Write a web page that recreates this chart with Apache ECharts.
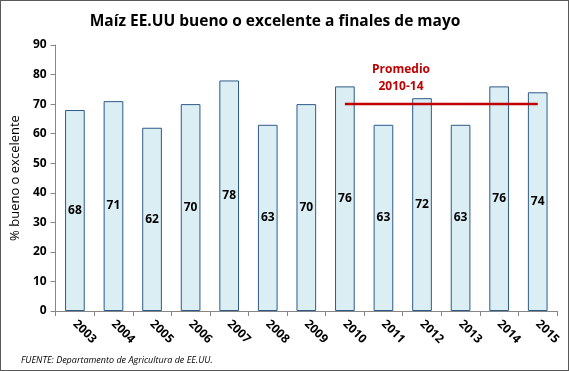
<!DOCTYPE html>
<html><head><meta charset="utf-8">
<script src="https://cdn.jsdelivr.net/npm/echarts@6/dist/echarts.min.js"></script>
<style>
html,body{margin:0;padding:0;background:#fff;}
#c{width:567px;height:369px;border:1px solid #595959;}
</style></head>
<body><div id="c"></div>
<script>
const years = ['2003','2004','2005','2006','2007','2008','2009','2010','2011','2012','2013','2014','2015'];
const values = [68,71,62,70,78,63,70,76,63,72,63,76,74];
const avgYears = ['2010','2011','2012','2013','2014','2015'];
const avgValue = 70;
const yTicks = [0,10,20,30,40,50,60,70,80,90];

const avgData = years.map(y => avgYears.includes(y) ? avgValue : null);
const font = "'Open Sans', 'Liberation Sans', sans-serif";
const chart = echarts.init(document.getElementById('c'));
chart.setOption({
  animation:false,
  textStyle:{fontFamily:font},
  title:{text:'Maíz EE.UU bueno o excelente a finales de mayo', left:269, top:8, textAlign:'center',
    textStyle:{fontSize:15.5, fontWeight:'bold', color:'#000', fontFamily:font}},
  grid:{left:51, right:11, top:44, bottom:59},
  xAxis:{type:'category', data:years,
    axisLine:{lineStyle:{color:'#868686'}},
    axisTick:{show:true, alignWithLabel:false, length:5, lineStyle:{color:'#868686'}},
    axisLabel:{rotate:-45, color:'#000', fontWeight:'bold', fontSize:12, margin:11, interval:0}},
  yAxis:{type:'value', min:0, max:90, interval:10,
    name:'% bueno o excelente', nameLocation:'middle', nameGap:33, nameRotate:90,
    nameTextStyle:{fontSize:13, color:'#000'},
    axisLine:{show:true, lineStyle:{color:'#868686'}},
    axisTick:{show:true, length:5, lineStyle:{color:'#868686'}},
    splitLine:{show:false},
    axisLabel:{color:'#000', fontWeight:'bold', fontSize:12, margin:9,
      formatter:v => yTicks.includes(v) ? String(v) : ''}},
  series:[
    {type:'bar', data:values, barWidth:'51%',
      itemStyle:{color:'#DBEEF4', borderColor:'#2E5A8A', borderWidth:1},
      label:{show:true, position:'inside', color:'#000', fontWeight:'bold', fontSize:12}},
    {type:'line', data:avgData, symbol:'none', connectNulls:false,
      lineStyle:{color:'#C00000', width:2.5}, z:5}
  ],
  graphic:[
    {type:'text', x:400, y:60, style:{text:'Promedio\n2010-14', fill:'#C00000', font:"bold 12px 'Open Sans', sans-serif", align:'center', textAlign:'center', lineHeight:17}},
    {type:'text', x:20, y:355, style:{text:'FUENTE: Departamento de Agricultura de EE.UU.', fill:'#000', font:"italic 9px 'Open Sans', sans-serif"}}
  ]
});
</script></body></html>
